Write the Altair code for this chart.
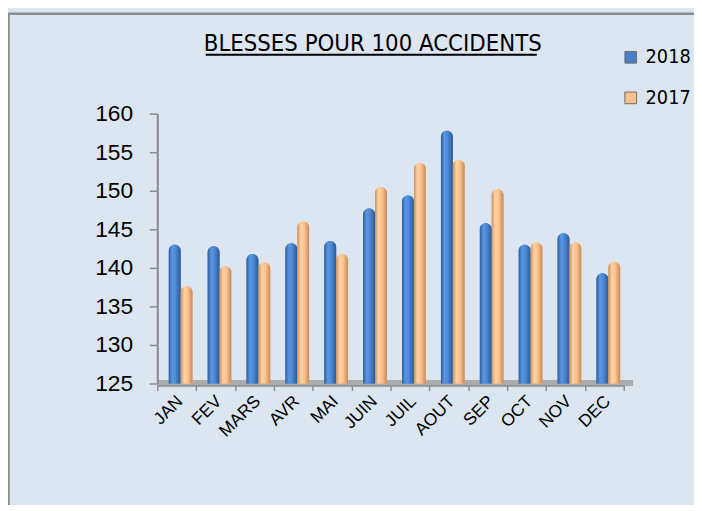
import altair as alt
import pandas as pd

months = ["JAN", "FEV", "MARS", "AVR", "MAI", "JUIN", "JUIL", "AOUT", "SEP", "OCT", "NOV", "DEC"]
years = ["2018", "2017"]
v2018 = [143.0, 142.8, 141.8, 143.2, 143.5, 147.7, 149.4, 157.8, 145.8, 143.0, 144.5, 139.3]
v2017 = [137.6, 140.2, 140.7, 146.0, 141.8, 150.5, 153.6, 154.0, 150.2, 143.3, 143.3, 140.8]
y_ticks = [125, 130, 135, 140, 145, 150, 155, 160]
title_text = "BLESSES POUR 100 ACCIDENTS"

rows = []
for i, m in enumerate(months):
    rows.append({"month": m, "year": "2018", "value": v2018[i]})
    rows.append({"month": m, "year": "2017", "value": v2017[i]})
df = pd.DataFrame(rows)

W, H = 472, 273
NARROW = "Liberation Sans Narrow, Arial Narrow, DejaVu Sans Condensed, sans-serif"
REG = "Liberation Sans, Arial, sans-serif"

x_enc = alt.X("month:N", sort=months, scale=alt.Scale(paddingInner=0, paddingOuter=0),
              axis=alt.Axis(title=None, labelAngle=-45, labelAlign="right", labelBaseline="middle",
                            labelFontSize=17.5, labelFont=REG, labelColor="black", labelPadding=8,
                            labelOffset=3, tickBand="extent", tickSize=5, tickColor="#8a8a8a",
                            tickWidth=1.5, domainColor="#8a8a8a", domainWidth=1.5, offset=2,
                            labelOverlap=False, grid=False, zindex=1))
xo_enc = alt.XOffset("year:N", scale=alt.Scale(domain=years, paddingInner=0, paddingOuter=0.64, align=0.76))
y_enc = alt.Y("value:Q", scale=alt.Scale(domain=[125, 160], nice=False, zero=False),
              axis=alt.Axis(title=None, values=y_ticks, tickCount=8, labelFontSize=23, labelFont=REG,
                            labelColor="black", labelPadding=17, tickSize=8, tickColor="#8a8a8a",
                            tickWidth=1.5, labelOverlap=False, labelFlush=False,
                            domainColor="#8a8a8a", domainWidth=2, grid=False, zindex=1))
y2_enc = alt.datum(125)

base = alt.Chart(df)

floor = base.mark_rect(color="#ababab").encode(
    x=alt.value(0), x2=alt.value(W + 9), y=alt.value(H - 3), y2=alt.value(H + 2)
)

bars = base.mark_bar(cornerRadiusTopLeft=6, cornerRadiusTopRight=6).encode(
    x=x_enc, xOffset=xo_enc, y=y_enc, y2=y2_enc,
    color=alt.Color("year:N", sort=years,
                    scale=alt.Scale(domain=years, range=["#4a7fcb", "#fbc08c"]),
                    legend=alt.Legend(title=None, orient="none", legendX=469, legendY=-67,
                                      labelFontSize=20, labelFont=NARROW, labelColor="black",
                                      symbolType="square", symbolSize=140, symbolStrokeColor="#6d6d6d",
                                      symbolStrokeWidth=1, rowPadding=21, labelOffset=5, padding=0,
                                      zindex=1))
)

def grad(stops):
    return alt.Gradient(gradient="linear", x1=0, x2=1, y1=0, y2=0,
                        stops=[alt.GradientStop(color=c, offset=o) for o, c in stops])

blue_g = grad([(0, "#2f5e9e"), (0.3, "#5a97e0"), (0.55, "#4e8bd6"), (1, "#2d5a96")])
orange_g = grad([(0, "#c8915e"), (0.3, "#ffd2a6"), (0.6, "#fcc18d"), (1, "#c48a58")])

bars_b = base.transform_filter(alt.datum.year == "2018").mark_bar(
    fill=blue_g, cornerRadiusTopLeft=6, cornerRadiusTopRight=6).encode(
    x=x_enc, xOffset=xo_enc, y=y_enc, y2=y2_enc)
bars_o = base.transform_filter(alt.datum.year == "2017").mark_bar(
    fill=orange_g, cornerRadiusTopLeft=6, cornerRadiusTopRight=6).encode(
    x=x_enc, xOffset=xo_enc, y=y_enc, y2=y2_enc)

title = alt.Chart(pd.DataFrame({"t": [title_text]})).mark_text(
    font=NARROW, fontSize=24, align="center", baseline="alphabetic", color="black"
).encode(text="t:N", x=alt.value(218), y=alt.value(-63))

underline = alt.Chart(pd.DataFrame({"t": [title_text]})).mark_rule(color="black", strokeWidth=2).encode(
    x=alt.value(49), x2=alt.value(384), y=alt.value(-59.5)
)

frame = alt.Chart(pd.DataFrame({"t": [0]})).mark_rect(
    fill="transparent", stroke="#8c8c8c", strokeWidth=2.5
).encode(x=alt.value(-150.5), x2=alt.value(700), y=alt.value(-101), y2=alt.value(600))

chart = alt.layer(floor, bars, bars_b, bars_o, title, underline, frame).properties(
    width=W, height=H,
    padding={"left": 151, "top": 104, "right": 71, "bottom": 120},
    autosize=alt.AutoSizeParams(type="none"),
).configure(background="#dce6f1").configure_view(stroke=None)

chart.save("out.html", embed_options={"renderer": "svg", "actions": False})
